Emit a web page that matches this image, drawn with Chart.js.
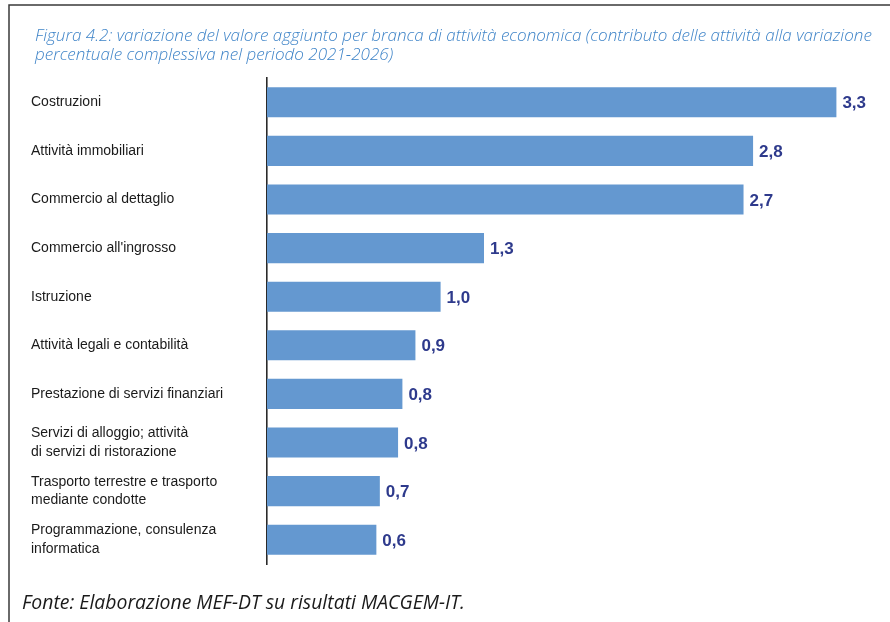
<!DOCTYPE html>
<html>
<head>
<meta charset="utf-8">
<script src="https://cdn.jsdelivr.net/npm/chart.js@4"></script>
<style>
  html, body { margin: 0; padding: 0; background: #ffffff; }
  #wrap { width: 890px; height: 622px; }
</style>
</head>
<body>
<div id="wrap"><canvas id="c" width="890" height="622"></canvas></div>
<script>
const categories = [
  "Costruzioni",
  "Attività immobiliari",
  "Commercio al dettaglio",
  "Commercio all'ingrosso",
  "Istruzione",
  "Attività legali e contabilità",
  "Prestazione di servizi finanziari",
  ["Servizi di alloggio; attività", "di servizi di ristorazione"],
  ["Trasporto terrestre e trasporto", "mediante condotte"],
  ["Programmazione, consulenza", "informatica"]
];
const values = [3.28, 2.80, 2.745, 1.25, 1.00, 0.855, 0.78, 0.755, 0.65, 0.63];
const valueLabels = ["3,3", "2,8", "2,7", "1,3", "1,0", "0,9", "0,8", "0,8", "0,7", "0,6"];
const titleLines = [
  "Figura 4.2: variazione del valore aggiunto per branca di attività economica (contributo delle attività alla variazione",
  "percentuale complessiva nel periodo 2021-2026)"
];
const sourceText = "Fonte: Elaborazione MEF-DT su risultati MACGEM-IT.";

function fitFont(ctx, text, style, family, targetWidth) {
  ctx.font = style + " 20px " + family;
  const w = ctx.measureText(text).width;
  return 20 * targetWidth / w;
}

const framePlugin = {
  id: 'frame',
  beforeDraw(chart) {
    const ctx = chart.ctx;
    ctx.save();
    ctx.fillStyle = '#ffffff';
    ctx.fillRect(0, 0, chart.width, chart.height);
    // frame
    ctx.strokeStyle = '#3a3a3a';
    ctx.lineWidth = 1.5;
    ctx.beginPath();
    ctx.moveTo(9, chart.height + 2);
    ctx.lineTo(9, 5);
    ctx.lineTo(chart.width + 2, 5);
    ctx.stroke();
    // title
    const fam = '"Open Sans", "DejaVu Sans", sans-serif';
    const ts = fitFont(ctx, titleLines[0], 'italic 300', fam, 837);
    ctx.font = 'italic 300 ' + ts + 'px ' + fam;
    ctx.fillStyle = '#3f84c8';
    ctx.textAlign = 'left';
    ctx.textBaseline = 'alphabetic';
    ctx.fillText(titleLines[0], 35, 41);
    ctx.fillText(titleLines[1], 35, 60);
    // source
    const fs = fitFont(ctx, sourceText, 'italic 400', fam, 443);
    ctx.font = 'italic 400 ' + fs + 'px ' + fam;
    ctx.fillStyle = '#1a1a1a';
    ctx.textBaseline = 'middle';
    ctx.fillText(sourceText, 22, 603);
    ctx.restore();
  },
  afterDatasetsDraw(chart) {
    const ctx = chart.ctx;
    const meta = chart.getDatasetMeta(0);
    ctx.save();
    ctx.font = 'bold 17px "Liberation Sans", Arial, sans-serif';
    ctx.fillStyle = '#2e3a8c';
    ctx.textAlign = 'left';
    ctx.textBaseline = 'middle';
    meta.data.forEach((bar, i) => {
      ctx.fillText(valueLabels[i], bar.x + 6, bar.y + 1.5);
    });
    ctx.restore();
  }
};

new Chart(document.getElementById('c'), {
  type: 'bar',
  data: {
    labels: categories,
    datasets: [{
      data: values,
      backgroundColor: '#6498d0',
      borderWidth: 0,
      barPercentage: 0.62,
      categoryPercentage: 1.0
    }]
  },
  options: {
    indexAxis: 'y',
    responsive: false,
    animation: false,
    devicePixelRatio: 1,
    layout: { padding: { left: 31, top: 78, right: 15.4, bottom: 58 } },
    plugins: {
      legend: { display: false },
      tooltip: { enabled: false },
      title: { display: false }
    },
    scales: {
      x: {
        display: false,
        min: 0,
        max: 3.5
      },
      y: {
        afterFit(scale) { scale.width = 236; },
        grid: { display: false },
        border: { display: true, color: '#2a2a2a', width: 1.6 },
        ticks: {
          crossAlign: 'far',
          color: '#1a1a1a',
          padding: 0,
          font: { family: '"Liberation Sans", Arial, sans-serif', size: 14, lineHeight: 1.35 }
        }
      }
    }
  },
  plugins: [framePlugin]
});
</script>
</body>
</html>
